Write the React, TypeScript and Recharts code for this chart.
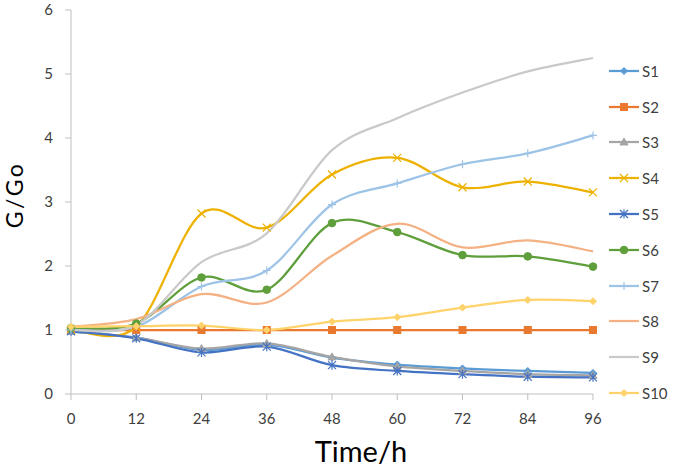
import React from 'react';
import { LineChart, Line, XAxis, YAxis, Legend } from 'recharts';

const hours = [0, 12, 24, 36, 48, 60, 72, 84, 96];
const s1 = [0.98, 0.88, 0.69, 0.77, 0.57, 0.46, 0.40, 0.36, 0.33];
const s2 = [1, 1, 1, 1, 1, 1, 1, 1, 1];
const s3 = [0.98, 0.88, 0.71, 0.79, 0.58, 0.43, 0.36, 0.31, 0.29];
const s4 = [1.0, 1.05, 2.82, 2.6, 3.43, 3.69, 3.23, 3.32, 3.15];
const s5 = [0.98, 0.87, 0.65, 0.74, 0.45, 0.36, 0.31, 0.27, 0.26];
const s6 = [1.03, 1.1, 1.82, 1.63, 2.67, 2.53, 2.17, 2.15, 1.99];
const s7 = [1.0, 1.05, 1.68, 1.93, 2.96, 3.29, 3.59, 3.76, 4.04];
const s8 = [1.05, 1.17, 1.56, 1.43, 2.16, 2.66, 2.29, 2.4, 2.23];
const s9 = [1.0, 1.08, 2.06, 2.51, 3.81, 4.31, 4.71, 5.04, 5.25];
const s10 = [1.05, 1.06, 1.07, 1.0, 1.13, 1.2, 1.35, 1.47, 1.45];

const yTicks = [0, 1, 2, 3, 4, 5, 6];
const xTicks = hours;

const seriesNames = ['S1', 'S2', 'S3', 'S4', 'S5', 'S6', 'S7', 'S8', 'S9', 'S10'];
const seriesValues = [s1, s2, s3, s4, s5, s6, s7, s8, s9, s10];
const seriesColors = ['#5B9BD5', '#E8792F', '#A5A5A5', '#EDB100', '#4472C4', '#5E9F3C', '#9DC3E6', '#F4B183', '#C9C9C9', '#FFD36B'];
const seriesMarkers = ['diamond', 'square', 'triangle', 'x', 'star', 'circle', 'plus', 'none', 'none', 'diamond'];

const data = hours.map((h, i) => {
  const row: any = { t: h };
  seriesNames.forEach((n, k) => { row[n] = seriesValues[k][i]; });
  return row;
});

// Excel-like smoothing (Catmull-Rom style Bezier)
const smoothCurve = (context: any) => {
  let pts: number[][] = [];
  return {
    areaStart() {},
    areaEnd() {},
    lineStart() { pts = []; },
    lineEnd() {
      const n = pts.length;
      if (n === 0) return;
      context.moveTo(pts[0][0], pts[0][1]);
      if (n === 1) return;
      for (let i = 0; i < n - 1; i++) {
        const p0 = pts[i - 1] || pts[i];
        const p1 = pts[i];
        const p2 = pts[i + 1];
        const p3 = pts[i + 2] || pts[i + 1];
        const c1x = p1[0] + (p2[0] - p0[0]) / 6;
        const c1y = p1[1] + (p2[1] - p0[1]) / 6;
        const c2x = p2[0] - (p3[0] - p1[0]) / 6;
        const c2y = p2[1] - (p3[1] - p1[1]) / 6;
        context.bezierCurveTo(c1x, c1y, c2x, c2y, p2[0], p2[1]);
      }
    },
    point(x: number, y: number) { pts.push([+x, +y]); },
  };
};

const Marker = ({ cx, cy, shape, color }: any) => {
  if (cx == null || cy == null || shape === 'none') return <g />;
  switch (shape) {
    case 'diamond':
      return <path d={`M${cx},${cy - 3.5}L${cx + 3.5},${cy}L${cx},${cy + 3.5}L${cx - 3.5},${cy}Z`} fill={color} stroke={color} strokeWidth={1} />;
    case 'square':
      return <rect x={cx - 3.5} y={cy - 3.5} width={7} height={7} fill={color} stroke={color} strokeWidth={1} />;
    case 'triangle':
      return <path d={`M${cx},${cy - 4}L${cx + 4},${cy + 3}L${cx - 4},${cy + 3}Z`} fill={color} stroke={color} strokeWidth={1} />;
    case 'x':
      return <path d={`M${cx - 4},${cy - 4}L${cx + 4},${cy + 4}M${cx + 4},${cy - 4}L${cx - 4},${cy + 4}`} stroke={color} strokeWidth={1.2} fill="none" />;
    case 'star':
      return <path d={`M${cx - 4},${cy - 4}L${cx + 4},${cy + 4}M${cx + 4},${cy - 4}L${cx - 4},${cy + 4}M${cx},${cy - 4.5}L${cx},${cy + 4.5}`} stroke={color} strokeWidth={1.2} fill="none" />;
    case 'circle':
      return <circle cx={cx} cy={cy} r={3.8} fill={color} stroke={color} strokeWidth={1} />;
    case 'plus':
      return <path d={`M${cx - 4},${cy}L${cx + 4},${cy}M${cx},${cy - 4}L${cx},${cy + 4}`} stroke={color} strokeWidth={1.2} fill="none" />;
    default:
      return <g />;
  }
};

const LegendContent = () => (
  <div style={{ fontFamily: 'Lato, sans-serif', fontSize: 15, color: '#404040' }}>
    {seriesNames.map((n, k) => (
      <div key={n} style={{ height: 35.8, display: 'flex', alignItems: 'center' }}>
        <svg width={32} height={12} style={{ display: 'block' }}>
          <line x1={1} y1={6} x2={31} y2={6} stroke={seriesColors[k]} strokeWidth={2.25} />
          <Marker cx={16} cy={6} shape={seriesMarkers[k]} color={seriesColors[k]} />
        </svg>
        <span style={{ marginLeft: 2 }}>{n}</span>
      </div>
    ))}
  </div>
);

const XTitle = () => (
  <text x={361} y={462} textAnchor="middle" fill="#000" fontSize={29} fontFamily="Lato, sans-serif">Time/h</text>
);

const YTitle = () => {
  const cx = 23;
  const cy = 195;
  return (
    <text x={cx} y={cy} transform={`rotate(-90, ${cx}, ${cy})`} textAnchor="middle" fill="#000" fontSize={23} letterSpacing={2.5} fontFamily="Lato, sans-serif">G/Go</text>
  );
};

export default function App() {
  return (
    <div style={{ position: 'absolute', left: 0, top: 0, width: 675, height: 473, background: '#fff' }}>
      <LineChart width={675} height={473} data={data} margin={{ top: 10, right: 82, bottom: 0, left: 0 }}>
        <XAxis
          dataKey="t"
          type="number"
          domain={[0, 96]}
          ticks={xTicks}
          interval={0}
          stroke="#BFBFBF"
          tickSize={6}
          tickMargin={13}
          tick={{ fill: '#404040', fontSize: 15, fontFamily: 'Lato, sans-serif' }}
          tickLine={{ stroke: '#BFBFBF' }}
          height={79}
          label={<XTitle />}
        />
        <YAxis
          type="number"
          domain={[0, 6]}
          ticks={yTicks}
          interval={0}
          stroke="#BFBFBF"
          tickSize={6}
          tickMargin={12}
          width={71}
          tick={{ fill: '#404040', fontSize: 15, fontFamily: 'Lato, sans-serif' }}
          tickLine={{ stroke: '#BFBFBF' }}
          label={<YTitle />}
        />
        <Legend
          layout="vertical"
          align="center"
          verticalAlign="middle"
          content={<LegendContent />}
          wrapperStyle={{ left: 608, top: 53, width: 67 }}
        />
        {seriesNames.map((n, k) => (
          <Line
            key={n}
            dataKey={n}
            type={smoothCurve as any}
            stroke={seriesColors[k]}
            strokeWidth={2.25}
            isAnimationActive={false}
            dot={(p: any) => <Marker key={`${n}-${p.index}`} cx={p.cx} cy={p.cy} shape={seriesMarkers[k]} color={seriesColors[k]} />}
            activeDot={false}
          />
        ))}
      </LineChart>
    </div>
  );
}
